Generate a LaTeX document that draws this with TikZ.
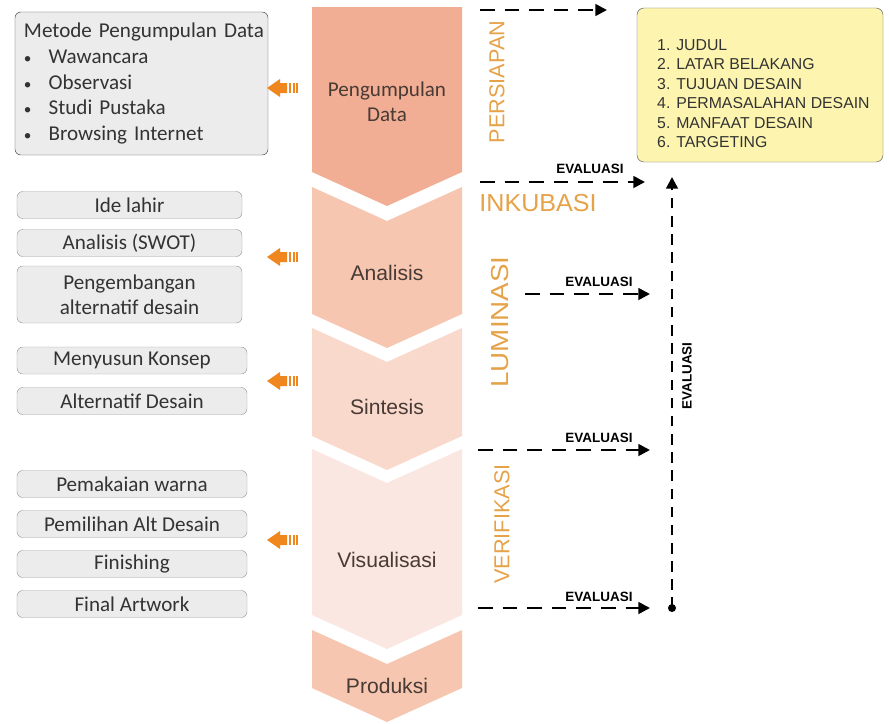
\documentclass[tikz,border=0pt]{standalone}
\usepackage{fontspec}
\setmainfont{Liberation Sans}
\newfontfamily\calibri{Carlito}
\usetikzlibrary{arrows.meta, positioning}
\definecolor{chevA}{RGB}{242,174,148}
\definecolor{chevB}{RGB}{247,198,177}
\definecolor{chevC}{RGB}{249,217,204}
\definecolor{chevD}{RGB}{251,231,225}
\definecolor{chevtext}{RGB}{72,58,52}
\definecolor{phaseorange}{RGB}{230,162,72}
\definecolor{arroworange}{RGB}{240,135,30}
\definecolor{boxgray}{RGB}{236,236,236}
\definecolor{noteyellow}{RGB}{253,245,175}

\newcommand{\itembullet}{\hspace{0.2cm}\makebox[0.74cm][l]{\fontsize{13}{13}\selectfont•}}

\tikzset{
  stepbox/.style={draw=gray!75, fill=boxgray, rounded corners=5pt, minimum width=6.75cm, minimum height=0.81cm, inner sep=0pt, font=\calibri\fontsize{18}{21}\selectfont, text=black!80, align=center},
  chevlabel/.style={font=\fontsize{18}{21}\selectfont, text=chevtext, align=center},
  phaselabel/.style={font=\fontsize{18.5}{20}\selectfont, text=phaseorange},
  evalarrow/.style={line width=2.2pt, dash pattern=on 12.5pt off 8.5pt, -{Triangle[length=10pt,width=10pt]}},
  evallabel/.style={font=\bfseries\fontsize{11.5}{13}\selectfont},
  orangemark/.pic={
    \fill[arroworange] (-31,0) -- (-18,-9) -- (-18,-5) -- (-11,-5) -- (-11,5) -- (-18,5) -- (-18,9) -- cycle;
    \fill[arroworange] (-9,-5) rectangle (-6.8,5);
    \fill[arroworange] (-5,-5) rectangle (-3.2,5);
    \fill[arroworange] (-1.6,-5) rectangle (0,5);
  }
}

\begin{document}
\begin{tikzpicture}[x=0.03cm, y=-0.03cm]
    \useasboundingbox (0,0) rectangle (889,724);

    % chevron column
    \fill[chevA] (312,7) -- (462,7) -- (462,172) -- (387,206) -- (312,172) -- cycle;
    \fill[chevB] (312,187) -- (387,221) -- (462,187) -- (462,314) -- (387,348) -- (312,314) -- cycle;
    \fill[chevC] (312,328) -- (387,362) -- (462,328) -- (462,436) -- (387,470) -- (312,436) -- cycle;
    \fill[chevD] (312,449) -- (387,483) -- (462,449) -- (462,615) -- (387,649) -- (312,615) -- cycle;
    \fill[chevB] (312,630) -- (387,664) -- (462,630) -- (462,688) -- (387,722) -- (312,688) -- cycle;

    \node[chevlabel, font=\calibri\fontsize{18}{21.5}\selectfont] (pengumpulan) at (387,102) {Pengumpulan\\Data};
    \node[chevlabel] (analisis) at (387,273) {Analisis};
    \node[chevlabel] (sintesis) at (387,407) {Sintesis};
    \node[chevlabel] (visualisasi) at (387,560) {Visualisasi};
    \node[chevlabel] (produksi) at (387,686) {Produksi};

    % left boxes
    \node[draw=gray!60!black, fill=boxgray, rounded corners=5pt, minimum width=7.59cm, minimum height=4.29cm, text width=7.45cm, align=left, inner sep=0pt, text=black!80, font=\calibri\fontsize{18}{21.8}\selectfont] (metode) at (141.5,83.5)
        {\hspace{0.2cm}Metode Pengumpulan Data\\
         \itembullet Wawancara\\
         \itembullet Observasi\\
         \itembullet Studi Pustaka\\
         \itembullet Browsing Internet};

    \node[stepbox] (idelahir) at (129.5,205) {Ide lahir};
    \node[stepbox] (swot) at (129.5,243) {Analisis (SWOT)};
    \node[stepbox, minimum height=1.71cm] (pengembangan) at (129.5,294.5) {Pengembangan\\alternatif desain};
    \node[stepbox, minimum width=6.9cm] (konsep) at (132,360.5) {Menyusun Konsep};
    \node[stepbox, minimum width=6.9cm] (altdesain) at (132,401) {Alternatif Desain};
    \node[stepbox, minimum width=6.9cm] (warna) at (132,484) {Pemakaian warna};
    \node[stepbox, minimum width=6.9cm] (pemilihan) at (132,524) {Pemilihan Alt Desain};
    \node[stepbox, minimum width=6.9cm] (finishing) at (132,564) {Finishing};
    \node[stepbox, minimum width=6.9cm] (artwork) at (132,604) {Final Artwork};

    % orange pointers
    \pic at (298,88) {orangemark};
    \pic at (298,257) {orangemark};
    \pic at (298,381) {orangemark};
    \pic at (298,540) {orangemark};

    % phases
    \node[phaselabel, rotate=90] (persiapan) at (497,82) {PERSIAPAN};
    \node[phaselabel, font=\fontsize{21}{22}\selectfont] (inkubasi) at (538,203) {\scalebox{1.02}[1]{INKUBASI}};
    \node[phaselabel, rotate=90, font=\fontsize{21}{22}\selectfont] (luminasi) at (500,322) {\scalebox{1.13}[1]{LUMINASI}};
    \node[phaselabel, rotate=90] (verifikasi) at (502,524) {VERIFIKASI};

    % yellow note
    \node[draw=gray!70!black, fill=noteyellow, rounded corners=6pt, minimum width=7.38cm, minimum height=4.62cm] (tujuan) at (760,85) {};
    \node[anchor=west, align=left, inner sep=0pt, text=black!80, font=\fontsize{13.5}{16.6}\selectfont] (tujuanlist) at (657,93.5)
        {1. JUDUL\\2. LATAR BELAKANG\\3. TUJUAN DESAIN\\4. PERMASALAHAN DESAIN\\5. MANFAAT DESAIN\\6. TARGETING};

    % evaluation arrows
    \coordinate (toTujuanS) at (480,10);
    \coordinate (toTujuanE) at (607,10);
    \coordinate (inkS) at (480,182);
    \coordinate (inkE) at (645,182);
    \coordinate (lumS) at (525,294);
    \coordinate (lumE) at (650,294);
    \coordinate (verS) at (478,450);
    \coordinate (verE) at (650,450);
    \coordinate (endS) at (478,608);
    \coordinate (endE) at (650,608);
    \coordinate (evalTop) at (672,177);

    \draw[evalarrow] (toTujuanS) -- (toTujuanE);
    \draw[evalarrow] (inkS) -- (inkE);
    \draw[evalarrow] (lumS) -- (lumE);
    \draw[evalarrow] (verS) -- (verE);
    \draw[evalarrow] (endS) -- (endE);

    \node[evallabel] (evalInk) at (590,169) {EVALUASI};
    \node[evallabel] (evalLum) at (599,282) {EVALUASI};
    \node[evallabel] (evalVer) at (599,438) {EVALUASI};
    \node[evallabel] (evalEnd) at (599,597) {EVALUASI};

    \node[circle, fill=black, inner sep=0pt, minimum size=0.24cm] (evaldot) at (672,608) {};
    \draw[evalarrow, line width=2.2pt, dash pattern=on 9pt off 6.5pt] (evaldot.center) -- (evalTop);
    \node[evallabel, rotate=90] (evalV) at (687,376) {EVALUASI};
\end{tikzpicture}
\end{document}
